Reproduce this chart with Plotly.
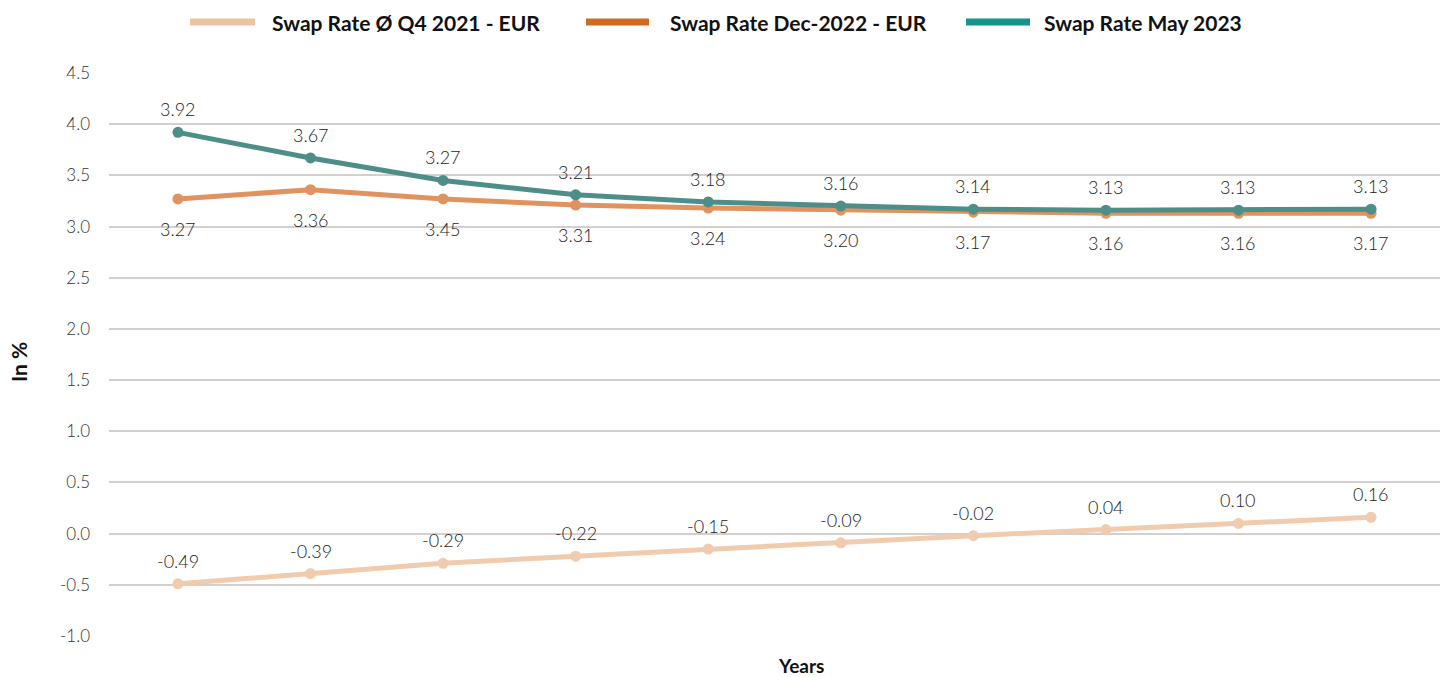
import plotly.graph_objects as go

years = [1, 2, 3, 4, 5, 6, 7, 8, 9, 10]
may_2023 = [3.92, 3.67, 3.45, 3.31, 3.24, 3.20, 3.17, 3.16, 3.16, 3.17]
dec_2022 = [3.27, 3.36, 3.27, 3.21, 3.18, 3.16, 3.14, 3.13, 3.13, 3.13]
q4_2021 = [-0.49, -0.39, -0.29, -0.22, -0.15, -0.09, -0.02, 0.04, 0.10, 0.16]

labels_above = ["3.92", "3.67", "3.27", "3.21", "3.18", "3.16", "3.14", "3.13", "3.13", "3.13"]
labels_below = ["3.27", "3.36", "3.45", "3.31", "3.24", "3.20", "3.17", "3.16", "3.16", "3.17"]
labels_q4 = ["-0.49", "-0.39", "-0.29", "-0.22", "-0.15", "-0.09", "-0.02", "0.04", "0.10", "0.16"]

series_names = ["Swap Rate Ø Q4 2021 - EUR", "Swap Rate Dec-2022 - EUR", "Swap Rate May 2023"]
legend_colors = ["#EBC3A0", "#D06A22", "#14948A"]
line_colors = ["#F0CBAE", "#E0935E", "#4E8E89"]

y_ticks = [-1.0, -0.5, 0.0, 0.5, 1.0, 1.5, 2.0, 2.5, 3.0, 3.5, 4.0, 4.5]

W, H = 1445, 677
ML, MR, MT, MB = 109, 5, 73, 41
PW = W - ML - MR
PH = H - MT - MB

FAM = "Lato, 'Open Sans', sans-serif"
LIGHT = dict(family=FAM, size=18, color="#222222", weight=300)

fig = go.Figure()
for ys, col in zip([q4_2021, dec_2022, may_2023], line_colors):
    fig.add_trace(go.Scatter(
        x=years, y=ys, mode="lines+markers",
        line=dict(color=col, width=5),
        marker=dict(color=col, size=11),
        showlegend=False, hoverinfo="skip",
    ))

annotations = []
for x, y, t in zip(years, may_2023, labels_above):
    annotations.append(dict(x=x, y=y, text=t, showarrow=False, yshift=23, font=LIGHT))
for x, y, t in zip(years, dec_2022, labels_below):
    annotations.append(dict(x=x, y=y, text=t, showarrow=False, yshift=-30, font=LIGHT))
for x, y, t in zip(years, q4_2021, labels_q4):
    annotations.append(dict(x=x, y=y, text=t, showarrow=False, yshift=23, font=LIGHT))

# custom legend
legend_items = [(190, 255, 270), (586, 649, 668), (966, 1030, 1042)]
ly = 1 + (MT - 22) / PH
shapes = []
for (x0, x1, tx), name, col in zip(legend_items, series_names, legend_colors):
    shapes.append(dict(type="line", xref="paper", yref="paper",
                       x0=(x0 - ML) / PW, x1=(x1 - ML) / PW, y0=ly, y1=ly,
                       line=dict(color=col, width=7)))
    annotations.append(dict(xref="paper", yref="paper", x=(tx - ML) / PW, y=ly,
                            xanchor="left", yanchor="middle", text=name, showarrow=False,
                            font=dict(family=FAM, size=21, color="#111111", weight=700)))

annotations.append(dict(xref="paper", yref="paper", x=(801 - ML) / PW, y=-(665 - (H - MB)) / PH,
                        text="Years", showarrow=False, xanchor="center", yanchor="middle",
                        font=dict(family=FAM, size=19, color="#111111", weight=700)))
annotations.append(dict(xref="paper", yref="paper", x=(18 - ML) / PW, y=0.5 - (362 - (MT + PH / 2)) / PH,
                        text="In %", showarrow=False, textangle=-90, xanchor="center", yanchor="middle",
                        font=dict(family=FAM, size=21, color="#111111", weight=700)))

fig.update_layout(
    width=W, height=H,
    margin=dict(l=ML, r=MR, t=MT, b=MB),
    paper_bgcolor="white", plot_bgcolor="white",
    showlegend=False,
    annotations=annotations,
    shapes=shapes,
    xaxis=dict(range=[0.48, 10.52], showticklabels=False, showgrid=False, zeroline=False,
               showline=False, ticks=""),
    yaxis=dict(range=[-1.0, 4.5], tickvals=y_ticks, ticktext=[f"{v:.1f}" for v in y_ticks],
               showgrid=True, gridcolor="#D3CFCD", gridwidth=2, zeroline=False, showline=False,
               ticks="", ticklabelstandoff=18,
               tickfont=dict(family=FAM, size=17, color="#333333", weight=300)),
)

fig.write_html("out.html")
